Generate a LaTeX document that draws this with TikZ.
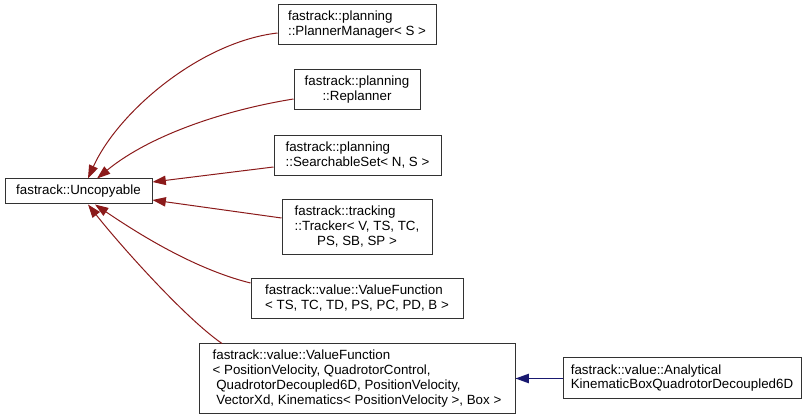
\documentclass[tikz,border=0pt]{standalone}
\usepackage{fontspec}
\setmainfont{Liberation Sans}
\usetikzlibrary{arrows.meta,calc}
\definecolor{inhred}{RGB}{139,26,26}
\definecolor{usblue}{RGB}{25,25,112}
\definecolor{boxline}{RGB}{50,50,50}
\newcommand\lblock[1]{\begin{tabular}{@{}l@{}}#1\end{tabular}}
\newcommand\cblock[1]{\begin{tabular}{@{}c@{}}#1\end{tabular}}
\begin{document}
\begin{tikzpicture}[x=0.75pt,y=-0.75pt,
  cls/.style 2 args={draw=boxline, line width=0.75pt, fill=white, inner sep=0pt,
    minimum width={#1*0.75pt}, minimum height={#2*0.75pt},
    font=\fontsize{10}{11.1}\selectfont},
  inh/.style={draw=inhred, line width=0.75pt, -{Triangle[length=10pt,width=7pt]}},
  usearrow/.style={draw=usblue, line width=0.75pt, -{Triangle[length=10pt,width=7pt]}}]
\useasboundingbox (0,0) rectangle (808,420);
\node[cls={147}{25}] (unc) at (78.5,191.5) {fastrack::Uncopyable};
\node[cls={158}{40}] (pm) at (357,25) {\lblock{fastrack::planning\\::PlannerManager< S >}};
\node[cls={126}{40}] (rep) at (357,90) {\cblock{fastrack::planning\\::Replanner}};
\node[cls={167}{40}] (ss) at (357.5,156) {\lblock{fastrack::planning\\::SearchableSet< N, S >}};
\node[cls={150}{55}] (tr) at (357,227.5) {\lblock{fastrack::tracking\\::Tracker< V, TS, TC,\\\multicolumn{1}{@{}c@{}}{PS, SB, SP >}}};
\node[cls={212}{40}] (vf1) at (357,299) {\lblock{fastrack::value::ValueFunction\\< TS, TC, TD, PS, PC, PD, B >}};
\node[cls={316}{70}] (vf2) at (357,379) {\lblock{fastrack::value::ValueFunction\\< PositionVelocity, QuadrotorControl,\\\hspace*{2.78pt}QuadrotorDecoupled6D, PositionVelocity,\\\hspace*{2.78pt}VectorXd, Kinematics< PositionVelocity >, Box >}};
\node[cls={238}{41}] (an) at (682,378.5) {\lblock{fastrack::value::Analytical\\KinematicBoxQuadrotorDecoupled6D}};
\draw[inh] ($(pm.west)+(0,8)$) .. controls (200,42) and (118,112) .. ($(unc.north)+(9.5,0)$);
\draw[inh] ($(rep.west)+(0,9)$) .. controls (225,110) and (150,135) .. ($(unc.north)+(18.5,0)$);
\draw[inh] ($(ss.west)+(0,11)$) -- ($(unc.east)+(0,-9.5)$);
\draw[inh] ($(tr.west)+(0,-9.5)$) -- ($(unc.east)+(0,8.5)$);
\draw[inh] ($(vf1.west)+(0,-16)$) .. controls (190,268) and (130,228) .. ($(unc.south)+(16.5,0)$);
\draw[inh] ($(vf2.north)+(-135,0)$) .. controls (185,318) and (120,245) .. ($(unc.south)+(9.5,0)$);
\draw[usearrow] (an.west) -- (an.west -| vf2.east);
\end{tikzpicture}
\end{document}
